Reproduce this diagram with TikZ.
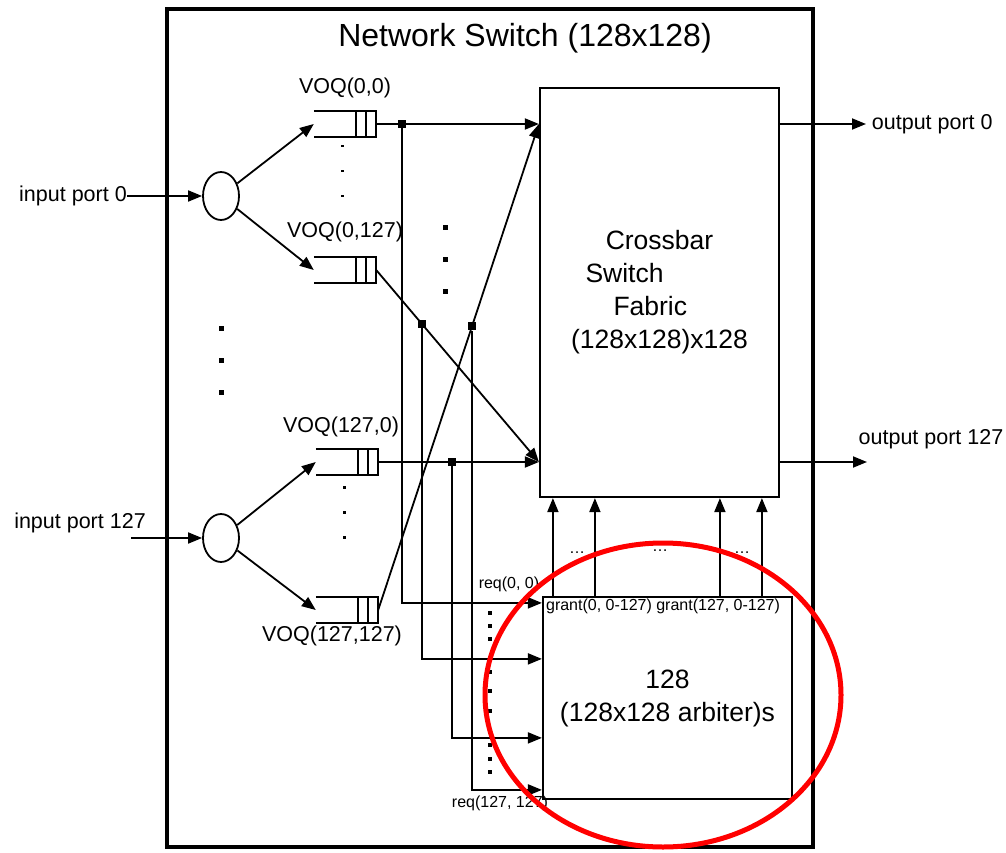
\documentclass[tikz,border=0pt]{standalone}
\usepackage{fontspec}
\setmainfont{Liberation Sans}
\usetikzlibrary{arrows.meta,positioning,shapes.geometric}

\begin{document}
\begin{tikzpicture}[
    x=1pt, y=-1pt,
    box/.style={rectangle, draw, line width=2.2pt, inner sep=0pt},
    queue/.style={rectangle, minimum width=62pt, minimum height=26pt, inner sep=0pt},
    splitter/.style={ellipse, draw, line width=1.8pt, minimum width=36pt, minimum height=48pt, inner sep=0pt},
    junction/.style={rectangle, fill, minimum size=8pt, inner sep=0pt},
    arrow/.style={-{Triangle[length=14pt,width=11pt]}, line width=1.8pt},
    lbl/.style={font=\fontsize{21.5}{25}\selectfont, inner sep=0pt},
    small/.style={font=\fontsize{16}{19}\selectfont, inner sep=0pt},
    big/.style={font=\fontsize{26.5}{33}\selectfont, align=center}
]
\useasboundingbox (0,0) rectangle (1006,853);

% Switch frame
\node[box, line width=4pt, minimum width=646pt, minimum height=838pt] (sw) at (490,428) {};
\node[font=\fontsize{32}{38}\selectfont] (title) at (525,38) {Network Switch (128x128)};

% Crossbar fabric
\node[box, big, minimum width=239pt, minimum height=409pt] (cb) at (659.5,292.5)
    {Crossbar\\\makebox[148pt][l]{Switch}\\\makebox[92pt][l]{Fabric}\\(128x128)x128};

% Arbiters
\node[box, big, minimum width=249pt, minimum height=202pt] (arb) at (667.5,698)
    {128\\(128x128 arbiter)s};
\node[small, anchor=north west] (g0) at ([xshift=4pt,yshift=-3pt]arb.north west) {grant(0, 0-127)};
\node[small, right=4pt of g0] (g127) {grant(127, 0-127)};

% Input ports and splitters
\node[splitter] (sp0) at (221,196) {};
\node[splitter] (sp127) at (221,538) {};
\node[lbl, anchor=base east] (in0) at (127,201) {input port 0};
\node[lbl] (in127) at (80,523) {input port 127};
\coordinate (in127end) at (131,538);

% Virtual output queues
\node[queue] (q00) at (345,124) {};
\node[queue] (q0127) at (345,270) {};
\node[queue] (q1270) at (347,462) {};
\node[queue] (q127127) at (347,610) {};
\foreach \q in {q00,q0127,q1270,q127127} {
  \draw[line width=1.8pt] (\q.north west) -- (\q.north east) -- (\q.south east) -- (\q.south west);
  \draw[line width=1.8pt] ([xshift=-10pt]\q.north east) -- ([xshift=-10pt]\q.south east)
                          ([xshift=-20pt]\q.north east) -- ([xshift=-20pt]\q.south east);
}
\node[lbl, above=13pt of q00] (v00) {VOQ(0,0)};
\node[lbl, above=15pt of q0127] (v0127) {VOQ(0,127)};
\node[lbl, above=12pt of q1270, xshift=-6pt] (v1270) {VOQ(127,0)};
\node[lbl, below=3pt of q127127, xshift=-15pt] (v127127) {VOQ(127,127)};

% Crossbar inputs and taps
\coordinate (ci0) at (cb.west |- q00.east);
\coordinate (ci127) at (cb.west |- q1270.east);
\node[junction] (j1) at (402,0 |- q00.east) {};
\node[junction] (j2) at (intersection of q0127.east--ci127 and 422,0--422,900) {};
\node[junction] (j3) at (452,0 |- q1270.east) {};
\node[junction] (j4) at (intersection of q127127.east--ci0 and 472,0--472,900) {};

% Arrows
\draw[arrow] (in0.east |- sp0.west) -- (sp0.west);
\draw[arrow] (in127end) -- (sp127.west);
\draw[arrow] (sp0) -- (q00.west);
\draw[arrow] (sp0) -- (q0127.west);
\draw[arrow] (sp127) -- (q1270.west);
\draw[arrow] (sp127) -- (q127127.west);

\draw[arrow] (q00.east) -- (ci0);
\draw[arrow] (q0127.east) -- (ci127);
\draw[arrow] (q1270.east) -- (ci127);
\draw[arrow] (q127127.east) -- (ci0);

\draw[arrow] (j1) |- ([yshift=-7pt]arb.north west);
\draw[arrow] (j2) |- ([yshift=-63pt]arb.north west);
\draw[arrow] (j3) |- ([yshift=-142pt]arb.north west);
\draw[arrow] (j4) |- ([yshift=-194pt]arb.north west);
\node[small] (r0) at (509,584) {req(0, 0)};
\node[small] (r127) at (500,803) {req(127, 127)};

\foreach \gx in {11,53,178,220} {
  \coordinate (ga) at ([xshift=\gx pt]arb.north west);
  \draw[arrow] (ga) -- (ga |- cb.south);
}
\node[small] (gd1) at (577,553) {…};
\node[small] (gd2) at (660,551) {…};
\node[small] (gd3) at (742,553) {…};

% Output ports
\coordinate (o0) at (866,0 |- ci0);
\coordinate (o127) at (867,0 |- ci127);
\draw[arrow] (cb.east |- ci0) -- (o0) node[lbl, right=5pt] (out0) {output port 0};
\draw[arrow] (cb.east |- ci127) -- (o127);
\node[lbl] (out127) at (931,439) {output port 127};

% Dots
\foreach \y in {145,170,195} \fill (341,\y) rectangle ++(2.5,2.5);
\foreach \y in {486,511,536} \fill (343,\y) rectangle ++(2.5,2.5);
\foreach \y in {225,257,289} \fill (443,\y) rectangle ++(4.5,4.5);
\foreach \y in {326,358,390} \fill (219,\y) rectangle ++(4.5,4.5);
\foreach \y in {611,624,637,670,689,709,743,757,770} \fill (488,\y) rectangle ++(3.5,3.5);

% Highlight
\draw[red, line width=5pt] (663,695) ellipse [x radius=178, y radius=152];

\end{tikzpicture}
\end{document}
